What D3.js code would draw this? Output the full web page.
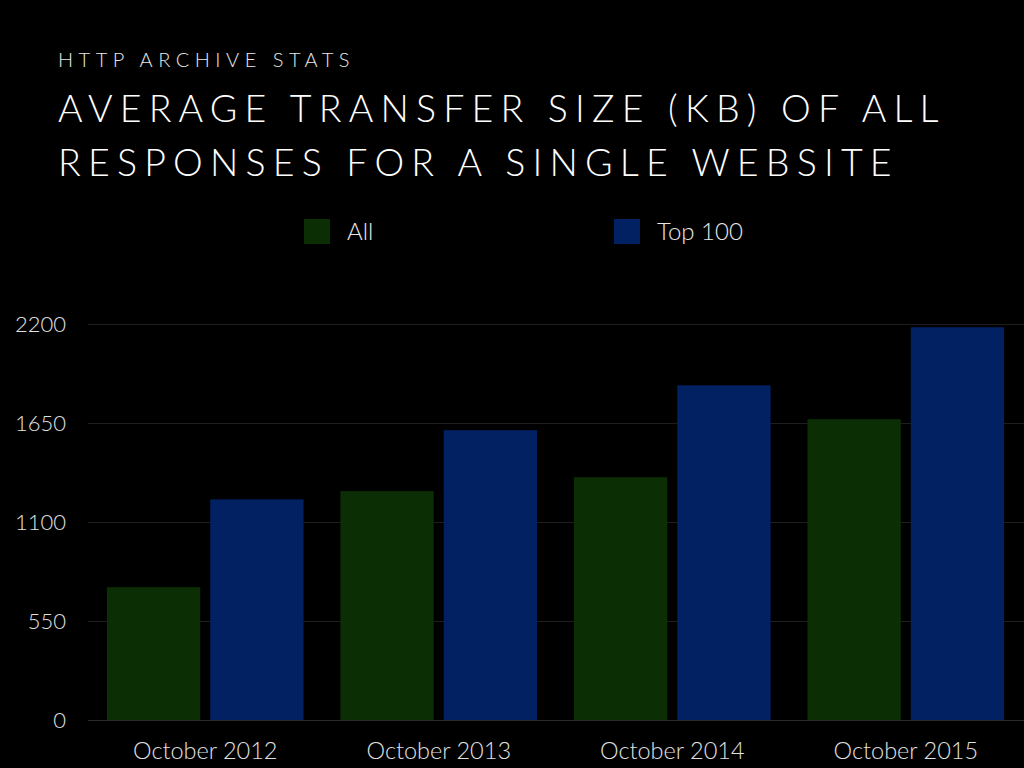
<!DOCTYPE html>
<html><head><meta charset="utf-8">
<script src="https://cdn.jsdelivr.net/npm/d3@7"></script>
<style>
html,body{margin:0;padding:0;background:#000;}
svg{display:block;}
text{font-family:Lato,"Open Sans",sans-serif;font-weight:300;}
</style></head>
<body>
<svg id="chart" width="1024" height="768"></svg>
<script>
const categories = ["October 2012","October 2013","October 2014","October 2015"];
const seriesNames = ["All","Top 100"];
const allValues = [737, 1270, 1347, 1669];
const top100Values = [1224, 1608, 1857, 2179];
const yTicks = [0, 550, 1100, 1650, 2200];
const colors = ["#0c2e04", "#012163"];

const svg = d3.select("#chart");
svg.append("rect").attr("width",1024).attr("height",768).attr("fill","#000");

// titles
svg.append("text").attr("x",58).attr("y",67)
  .attr("fill","#e8e8e8").attr("font-size",20).attr("letter-spacing","5.5px")
  .text("HTTP ARCHIVE STATS");
const titleLines = ["AVERAGE TRANSFER SIZE (KB) OF ALL","RESPONSES FOR A SINGLE WEBSITE"];
svg.selectAll("text.title").data(titleLines).join("text").attr("class","title")
  .attr("x",58).attr("y",(d,i)=>122+i*54)
  .attr("fill","#fff").attr("font-size",37.5).attr("letter-spacing","7.2px")
  .text(d=>d);

const y = d3.scaleLinear().domain([0,2200]).range([720,323.5]);
const x0 = d3.scaleBand().domain(categories).range([88,1023]).paddingInner(0.158).paddingOuter(0.081);
const x1 = d3.scaleBand().domain(seriesNames).range([0,x0.bandwidth()]).paddingInner(0.097).paddingOuter(0);

// y axis labels
const yAxis = d3.axisLeft(y).tickValues(yTicks).tickFormat(d3.format("d")).tickSize(0).tickPadding(0);
const gy = svg.append("g").attr("transform","translate(66,0)").call(yAxis);
gy.select(".domain").remove();
gy.selectAll("text").attr("fill","#e0e0e0").attr("font-size",22).attr("font-family","Lato, sans-serif").attr("font-weight",300).attr("dy","0.35em");
// gridlines
svg.append("g").selectAll("line").data(yTicks).join("line")
  .attr("x1",88).attr("x2",1024)
  .attr("y1",d=>Math.round(y(d))+0.5).attr("y2",d=>Math.round(y(d))+0.5)
  .attr("stroke",d=>d===0?"#2a2a2a":"#1e1e1e").attr("stroke-width",1);

// bars
const data = categories.map((c,i)=>({cat:c, vals:[allValues[i], top100Values[i]]}));
const groups = svg.append("g").selectAll("g").data(data).join("g")
  .attr("transform",d=>`translate(${x0(d.cat)},0)`);
groups.selectAll("rect").data(d=>d.vals.map((v,j)=>({s:seriesNames[j],v,j}))).join("rect")
  .attr("x",d=>x1(d.s)).attr("width",x1.bandwidth())
  .attr("y",d=>y(d.v)).attr("height",d=>y(0)-y(d.v))
  .attr("fill",d=>colors[d.j]);

// x axis labels
const xAxis = d3.axisBottom(x0).tickSize(0).tickPadding(0);
const gx = svg.append("g").attr("transform","translate(0,741)").call(xAxis);
gx.select(".domain").remove();
gx.selectAll("text").attr("fill","#e0e0e0").attr("font-size",23.5).attr("font-family","Lato, sans-serif").attr("font-weight",300).attr("dy","0.75em");

// legend
const legX = [304, 614];
const leg = svg.append("g").selectAll("g").data(seriesNames).join("g")
  .attr("transform",(d,i)=>`translate(${legX[i]},219)`);
leg.append("rect").attr("width",26).attr("height",25).attr("fill",(d,i)=>colors[i]);
leg.append("text").attr("x",43).attr("y",21).attr("fill","#e8e8e8").attr("font-size",24).text(d=>d);
</script>
</body></html>
